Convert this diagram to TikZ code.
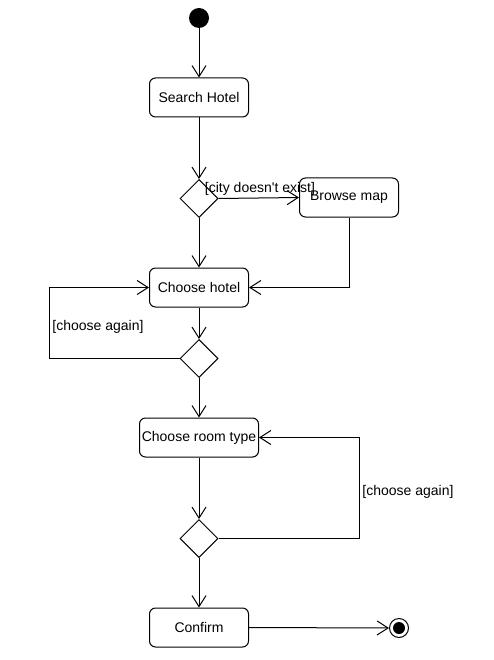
\documentclass[tikz,border=0pt]{standalone}
\usepackage{fontspec}
\setmainfont{Liberation Sans}
\usetikzlibrary{arrows.meta,shapes.geometric}
\begin{document}
\begin{tikzpicture}[x=1pt,y=-1pt,
  every node/.style={font=\fontsize{14}{16}\selectfont},
  actbox/.style={draw,line width=1pt,rounded corners=6pt,minimum height=39pt,inner sep=0pt},
  decision/.style={draw,line width=1pt,diamond,aspect=1,minimum size=38pt,inner sep=0pt},
  flow/.style={line width=1pt,-{Straight Barb[length=11pt,width=14pt,line width=1pt]}},
  guard/.style={inner sep=0pt}]
\useasboundingbox (0,0) rectangle (493,660);
\node[circle,fill=black,minimum size=20pt,inner sep=0pt] (start) at (199,18) {};
\node[actbox,minimum width=99pt] (search) at (199,97.5) {Search Hotel};
\node[decision] (d1) at (199,198.5) {};
\node[actbox,minimum width=99pt] (browse) at (349,197.5) {Browse map};
\node[actbox,minimum width=99pt] (hotel) at (199,287.5) {Choose hotel};
\node[decision] (d2) at (199,358.5) {};
\node[actbox,minimum width=119pt] (room) at (199,437.5) {Choose room type};
\node[decision] (d3) at (199,538.5) {};
\node[actbox,minimum width=99pt] (confirm) at (199,627.5) {Confirm};
\node[circle,draw,line width=1pt,minimum size=19pt,inner sep=0pt] (end) at (399,628) {};
\node[circle,fill=black,minimum size=12pt,inner sep=0pt] (endin) at (end.center) {};
\coordinate (l1) at (49,358.5);
\coordinate (r1) at (359,538.5);
\draw[flow] (start) -- (search.north);
\draw[flow] (search.south) -- (d1.north);
\draw[flow] (d1.east) -- (browse.west);
\draw[flow] (d1.south) -- (hotel.north);
\draw[flow] (browse.south) |- (hotel.east);
\draw[flow] (hotel.south) -- (d2.north);
\draw[flow] (d2.west) -- (l1) |- (hotel.west);
\draw[flow] (d2.south) -- (room.north);
\draw[flow] (room.south) -- (d3.north);
\draw[flow] (d3.east) -- (r1) |- (room.east);
\draw[flow] (d3.south) -- (confirm.north);
\draw[flow] (confirm.east) -- (end.west);
\node[guard] (g1) at (260,189) {[city doesn\textquotesingle t exist]};
\node[guard] (g2) at (98,327) {[choose again]};
\node[guard] (g3) at (408,491.5) {[choose again]};
\end{tikzpicture}
\end{document}
